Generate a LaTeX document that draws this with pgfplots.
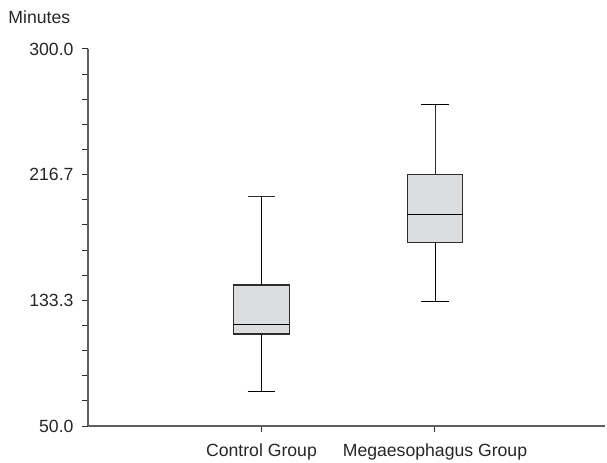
\documentclass[border=0pt]{standalone}
\usepackage{pgfplots}
\pgfplotsset{compat=1.18}
\usepackage{fontspec}
\setmainfont{Liberation Sans}
\definecolor{boxfill}{RGB}{220,221,223}
\definecolor{lin}{RGB}{45,45,45}
\definecolor{axc}{RGB}{95,95,95}
\begin{document}
\begin{tikzpicture}
\begin{axis}[
  scale only axis, width=517bp, height=377bp,
  xmin=0, xmax=2.98, ymin=50, ymax=300,
  axis lines=left,
  axis line style={-, axc, line width=1.2bp},
  clip=false,
  tick align=outside,
  major tick length=6bp, minor tick length=6bp,
  tick style={lin, line width=1bp},
  xtick={1,2},
  xticklabels={Control Group, Megaesophagus Group},
  ytick={50,133.333,216.667,300},
  yticklabels={50.0,133.3,216.7,300.0},
  minor ytick={66.667,83.333,100,116.667,150,166.667,183.333,200,233.333,250,266.667,283.333},
  tick label style={font=\fontsize{17.7}{21}\selectfont, text=black!85},
  x tick label style={yshift=-8bp},
  y tick label style={xshift=-5bp},
  cycle list={{draw=lin, solid, mark=none, line width=1.2bp}},
]
% Control Group: lower whisker 73.4, Q1 111, median 117.6, Q3 143.5, upper whisker 202.1
\addplot[draw=lin, solid, mark=none, line width=1.2bp, fill=boxfill] coordinates {(0.84,111) (1.16,111) (1.16,143.5) (0.84,143.5)} -- cycle;
\addplot coordinates {(0.84,117.6) (1.16,117.6)};
\addplot coordinates {(1,143.5) (1,202.1)};
\addplot coordinates {(1,111) (1,73.4)};
\addplot coordinates {(0.92,202.1) (1.08,202.1)};
\addplot coordinates {(0.92,73.4) (1.08,73.4)};
% Megaesophagus Group: lower whisker 132.4, Q1 171.8, median 190.1, Q3 216.9, upper whisker 263.5
\addplot[draw=lin, solid, mark=none, line width=1.2bp, fill=boxfill] coordinates {(1.84,171.8) (2.16,171.8) (2.16,216.9) (1.84,216.9)} -- cycle;
\addplot coordinates {(1.84,190.1) (2.16,190.1)};
\addplot coordinates {(2,216.9) (2,263.5)};
\addplot coordinates {(2,171.8) (2,132.4)};
\addplot coordinates {(1.92,263.5) (2.08,263.5)};
\addplot coordinates {(1.92,132.4) (2.08,132.4)};
\coordinate (O) at (rel axis cs:0,0);
\node[anchor=base west, inner sep=0pt, xshift=-79.7bp, yshift=25bp, font=\fontsize{17.7}{21}\selectfont, text=black!85] at (rel axis cs:0,1) {Minutes};
\end{axis}
\pgfresetboundingbox
\path (O) ++(-88bp,-37bp) rectangle ++(607bp,463bp);
\end{tikzpicture}
\end{document}
